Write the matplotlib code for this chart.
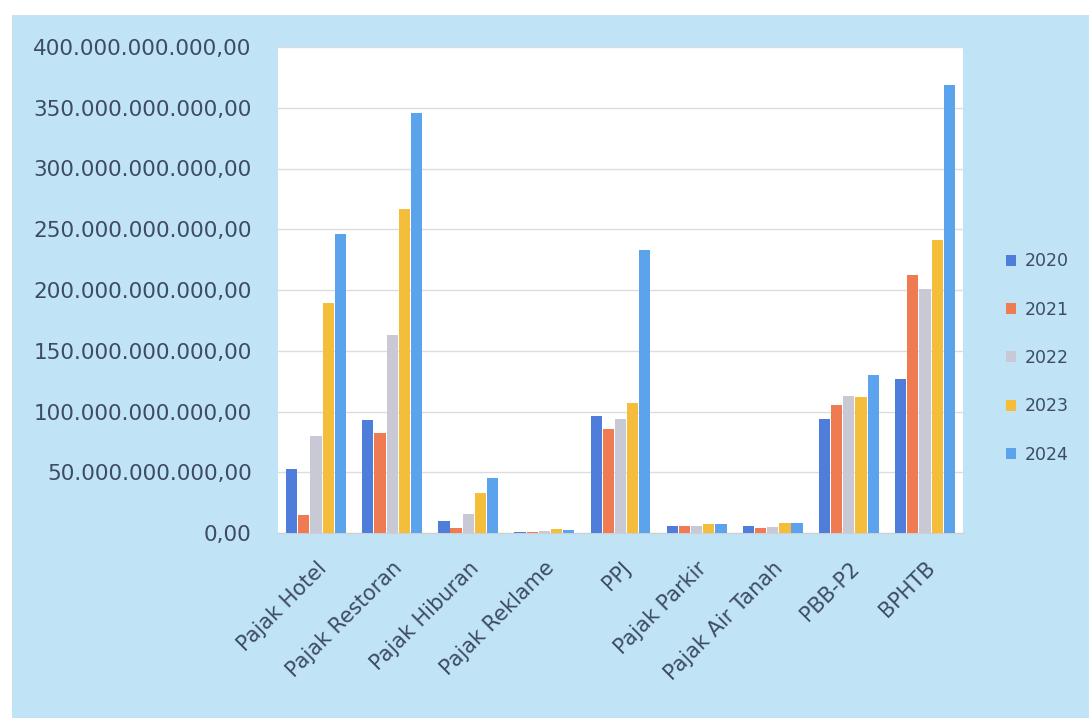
import matplotlib
matplotlib.use("Agg")
import matplotlib.pyplot as plt
import numpy as np
from matplotlib.patches import Rectangle
from matplotlib.ticker import FuncFormatter

categories = ["Pajak Hotel", "Pajak Restoran", "Pajak Hiburan", "Pajak Reklame",
              "PPJ", "Pajak Parkir", "Pajak Air Tanah", "PBB-P2", "BPHTB"]
years = ["2020", "2021", "2022", "2023", "2024"]
# values in billions of rupiah
v2020 = [53, 93, 9.5, 1.0, 96, 5.5, 6, 94, 127]
v2021 = [15, 82, 4, 1.2, 86, 5.5, 4, 105, 212]
v2022 = [80, 163, 16, 2.0, 94, 5.5, 5, 113, 201]
v2023 = [189, 267, 33, 3.0, 107, 7, 8, 112, 241]
v2024 = [246, 346, 45, 2.5, 233, 7, 8.5, 130, 369]
yticks = [0, 50, 100, 150, 200, 250, 300, 350, 400]

series = [v2020, v2021, v2022, v2023, v2024]
colors = ["#4e7ddb", "#ee7b52", "#c9c9d6", "#f4be3a", "#5ba3ec"]
bg = "#c0e3f6"
txt = "#3d4b63"

fig = plt.figure(figsize=(10.89, 7.18), dpi=100, facecolor="white")
fig.patches.append(Rectangle((12/1089, 0), 1, 1 - 15/718, transform=fig.transFigure,
                             facecolor=bg, edgecolor="none", zorder=-10))
ax = fig.add_axes([278/1089, 1 - 533/718, (963-278)/1089, (533-47)/718])
ax.set_facecolor("white")

x = np.arange(len(categories))
w = 0.16
for i, (vals, c, yr) in enumerate(zip(series, colors, years)):
    ax.bar(x + (i - 2) * w, np.array(vals) * 1e9, width=w * 0.92, color=c, label=yr, zorder=3)

ax.set_xlim(-0.5, len(categories) - 0.5)
ax.set_ylim(0, 400e9)
ax.set_yticks([t * 1e9 for t in yticks])

def fmt(v, pos):
    if v == 0:
        return "0,00"
    s = f"{int(round(v)):,}".replace(",", ".")
    return s + ",00"

ax.yaxis.set_major_formatter(FuncFormatter(fmt))
ax.grid(axis="y", color="#dcdcdc", linewidth=1, zorder=0)
for s in ["top", "right", "left"]:
    ax.spines[s].set_visible(False)
ax.spines["bottom"].set_color("#cfcfcf")
ax.tick_params(axis="y", length=0, labelsize=15.5, labelcolor=txt, pad=19)
ax.tick_params(axis="x", length=0, labelsize=15, labelcolor=txt, pad=18)
ax.set_xticks(x)
ax.set_xticklabels(categories, rotation=45, ha="right", rotation_mode="anchor")

leg = ax.legend(loc="center left", bbox_to_anchor=(990/1089, 1 - 358/718),
                bbox_transform=fig.transFigure, frameon=False, fontsize=12.5,
                labelspacing=1.75, handlelength=0.6, handleheight=0.6, handletextpad=0.5,
                labelcolor=txt)

fig.savefig("out.png", dpi=100, facecolor=fig.get_facecolor())
